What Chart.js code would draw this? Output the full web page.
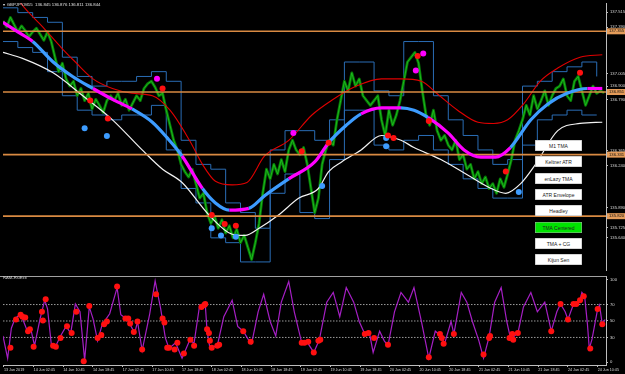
<!DOCTYPE html>
<html><head><meta charset="utf-8">
<script src="https://cdn.jsdelivr.net/npm/chart.js@4.4.0/dist/chart.umd.min.js"></script>
<style>
html,body{margin:0;padding:0;background:#000;width:625px;height:374px;overflow:hidden;font-family:"Liberation Sans",Arial,sans-serif}
canvas{position:absolute;left:0}
#main{top:0}
#sub{top:273px}
.t{position:absolute;transform:scale(.5);transform-origin:0 0;white-space:nowrap;line-height:1}
.btn{position:absolute;left:535px;width:94px;height:22px;background:#fff;color:#222;font-size:10px;line-height:22px;text-align:center;transform:scale(.5);transform-origin:0 0;box-sizing:border-box;border:1px solid #aaa}
.btn.on{background:#00e400}
</style></head><body>
<canvas id="main" width="625" height="273"></canvas>
<canvas id="sub" width="625" height="101"></canvas>
<div class="t" style="left:3px;top:2px;color:#e0e0e0;font-size:8.6px">&#9662; GBPJPY,M15&nbsp; 136.845 136.876 136.811 136.844</div>
<div class="t" style="left:3px;top:275px;color:#d0d0d0;font-size:8.4px">RAM-RsiExit</div>
<div id="btns"></div>
<script>
// ---------- DATA ----------
const buttonNames = ["M1 TMA","Keltner ATR","enLazy TMA","ATR Envelope","Headley","TMA Centered","TMA + CG","Kijun Sen"];
const activeButton = "TMA Centered";

const timeLabels = ["13 Jun 2019","14 Jun 02:45","14 Jun 10:45","14 Jun 18:45","17 Jun 02:45","17 Jun 10:45","17 Jun 18:45","18 Jun 02:45","18 Jun 10:45","18 Jun 18:45","19 Jun 02:45","19 Jun 10:45","19 Jun 18:45","20 Jun 02:45","20 Jun 10:45","20 Jun 18:45","21 Jun 02:45","21 Jun 10:45","21 Jun 18:45","24 Jun 02:45","24 Jun 10:45"];
const timeBars = [1,33,65,97,129,161,193,225,257,289,321,353,385,417,449,481,513,545,577,609,641];

const priceTicks = [137.515,137.390,137.005,136.900,136.790,136.365,136.240,135.890,135.725,135.640];
const levels = [137.355,136.851,136.331,135.820];
const rsiTicks = [0,30,50,70,100];
const rsiLevels = [70,50,30];

// close price, one sample every 4 bars (M15)
const PRICE_STEP = 4;
const priceClose = [
137.44,137.39,137.47,137.41,137.35,137.40,137.36,137.31,137.35,137.38,
137.33,137.28,137.35,137.27,137.14,137.02,137.09,136.96,136.90,136.94,
136.82,136.88,136.78,136.84,136.71,136.79,136.74,136.68,136.78,136.82,
136.78,136.84,136.74,136.79,136.70,136.76,136.82,136.78,136.88,136.92,
136.94,136.89,136.82,136.84,136.70,136.575,136.45,136.37,136.25,136.19,
136.145,136.21,136.09,135.97,136.01,135.85,135.76,135.82,135.72,135.79,
135.68,135.74,135.64,135.71,135.60,135.66,135.56,135.46,135.60,135.76,
136.01,136.21,136.13,136.25,136.17,136.29,136.19,136.37,136.45,136.37,
136.33,136.39,136.25,136.05,135.85,135.97,136.25,136.37,136.45,136.41,
136.62,136.78,136.94,136.86,137.01,136.90,136.96,136.82,136.78,136.74,
136.78,136.82,136.62,136.49,136.70,136.575,136.66,136.78,136.94,137.10,
137.14,137.18,137.09,136.86,136.66,136.575,136.70,136.53,136.45,136.49,
136.41,136.37,136.45,136.29,136.33,136.21,136.25,136.13,136.19,136.09,
136.145,136.05,136.09,136.01,136.13,136.06,136.17,136.29,136.45,136.53,
136.62,136.74,136.66,136.82,136.71,136.78,136.86,136.74,136.82,136.88,
136.90,136.96,136.82,136.78,136.94,136.98,136.86,136.74,136.82,136.90,
136.84,136.86,136.844];

// step channel, one value every 16 bars
const BAND_STEP = 16;
const stepUpper = [137.55,137.51,137.47,137.43,137.14,136.98,136.90,136.94,136.94,136.98,137.02,136.94,136.45,136.25,136.21,135.93,135.85,135.72,136.37,136.53,136.53,136.45,136.62,137.10,137.10,136.86,136.82,137.27,137.27,136.82,136.62,136.49,136.37,136.25,136.29,136.90,136.94,137.02,137.06,137.10,136.98];
const stepLower = [137.27,137.22,137.18,137.02,136.82,136.70,136.66,136.62,136.66,136.66,136.74,136.37,136.05,135.93,135.64,135.60,135.44,135.44,136.01,136.17,135.85,135.80,136.29,136.70,136.70,136.41,136.37,136.45,136.49,136.37,136.25,136.13,136.05,135.97,135.97,136.41,136.62,136.66,136.70,136.66,136.66];

const redBandBars = [0,19,43,64,78,97,118,139,161,180,201,215,229,247,263,282,308,333,354,381,408,429,451,469,490,512,529,544,561,579,598,622,646];
const redBandVals = [137.83,137.59,137.39,137.21,137.10,136.96,136.88,136.84,136.82,136.70,136.45,136.25,136.11,136.08,136.10,136.32,136.45,136.66,136.78,136.90,136.96,136.96,136.94,136.83,136.70,136.60,136.59,136.62,136.75,136.94,137.05,137.14,137.16];

const whiteBandBars = [0,21,54,86,118,150,172,193,222,247,261,276,297,319,340,351,365,386,408,429,443,472,499,526,542,558,574,598,622,646];
const whiteBandVals = [137.18,137.13,137.01,136.82,136.62,136.37,136.21,136.10,135.83,135.67,135.66,135.72,135.83,135.97,136.05,136.19,136.27,136.37,136.49,136.45,136.39,136.29,136.17,136.05,136.01,136.09,136.25,136.53,136.59,136.60];

const tmaBars = [0,16,32,54,75,97,118,139,161,177,193,215,229,244,265,282,308,336,351,370,386,408,429,443,458,480,497,515,531,547,569,587,608,630,646];
const tmaVals = [137.43,137.35,137.27,137.10,136.98,136.88,136.79,136.71,136.60,136.47,136.32,136.05,135.93,135.87,135.885,135.99,136.13,136.27,136.43,136.575,136.67,136.72,136.72,136.70,136.64,136.51,136.37,136.31,136.31,136.39,136.62,136.75,136.84,136.88,136.88];
const tmaState = [1,1,0,0,0,1,1,0,0,0,1,0,0,1,0,0,1,1,0,0,1,1,0,0,1,1,1,1,1,0,0,0,0,1,1];

const redDotBars = [94,113,172,225,239,251,322,351,415,421,447,459,542,622];
const redDotVals = [136.78,136.63,136.88,135.83,135.755,135.74,136.36,136.43,136.49,136.47,137.15,136.61,136.19,137.01];
const blueDotBars = [88,112,225,235,251,344,413,413,556];
const blueDotVals = [136.55,136.485,135.72,135.66,135.65,136.07,136.47,136.40,136.02];
const magDotBars = [166,313,445,453];
const magDotVals = [136.96,136.51,137.03,137.17];

const rsiBars = [0,5,9,13,18,21,27,30,34,40,45,48,52,57,62,68,73,78,83,88,93,97,102,107,115,123,127,134,142,145,150,158,164,170,175,179,186,193,201,206,212,218,220,223,
231,238,247,253,259,264,268,275,281,288,294,300,308,314,322,327,335,341,349,356,363,370,378,384,390,395,399,406,411,415,422,429,437,443,451,459,466,472,476,483,486,494,500,506,513,518,524,530,537,543,547,550,555,561,569,576,584,591,597,601,606,609,615,619,622,624,627,630,632,635,641,643,646,649];
const rsiVals = [31.8,4.7,41.2,52.9,57.6,52.9,35.3,40,20,52.9,75.3,64.7,22.4,20,31.8,43.5,35.3,70.6,61.2,2.4,67.1,52.9,25.9,45.9,58.8,90.6,57.6,51.8,35.3,49.4,14.1,57.6,98.8,64.7,29.4,16.5,23.5,4.7,25.9,23.5,69.4,70.6,37.6,17.6,
20,55.3,75.3,43.5,37.6,28.2,22.4,61.2,82.4,49.4,31.8,72.9,98,61.2,23.5,25.9,11.8,27.1,72.9,84.7,55.3,90.6,72.9,49.4,34.1,35.3,11.8,37.6,25.9,20,61.2,84.7,72.9,90.6,49.4,4.7,37.6,31.8,22.4,49.4,34.1,84.7,72.9,49.4,25.9,4.7,30.6,72.9,90.6,49.4,29.4,30.6,35.3,67.1,84.7,61.2,72.9,37.6,61.2,70.6,61.2,51.8,70.6,71.8,75.3,84.7,80,45.9,16.5,28.2,64.7,69.4,45.9,51.8];

const rsiDotBars = [8,14,19,21,24,27,29,33,42,43,46,54,57,62,69,74,79,87,93,102,106,109,112,123,132,135,137,141,145,150,165,172,174,177,179,185,188,195,202,206,214,217,218,220,222,223,225,231,233,259,267,322,325,329,335,340,342,390,394,400,415,459,471,473,475,486,518,524,525,546,549,550,555,591,601,609,615,618,622,626,633,641,646];
const rsiDotVals = [17.6,51.8,57.6,55.3,54.1,37.6,40,18.8,61.2,50.6,76.5,20,18.8,29.4,43.5,35.3,61.2,1.2,68.2,29.4,32.9,45.9,49.4,91.8,52.9,52.9,47.1,36.5,49.4,15.3,82.4,52.9,48.2,17.6,17.6,15.3,23.5,10.6,27.1,20,67.1,69.4,70.6,40,35.3,25.9,17.6,20,21.2,37.6,24.7,23.5,23.5,24.7,11.8,25.9,27.1,34.1,35.3,29.4,21.2,5.9,34.1,29.4,22.4,34.1,9.4,29.4,31.8,29.4,34.1,27.1,35.3,37.6,70.6,51.8,70.6,70.6,75.3,80,16.5,64.7,45.9];

// ---------- BUILD ----------
const X_MAX = 650;
const MAG = '#ff00ff', LBLUE = '#3d9cff';
const pts = (xs, ys) => ys.map((y, i) => ({x: xs[i], y}));
const stepPts = (step, ys) => ys.map((y, i) => ({x: i * step, y}));
const hline = v => [{x: 0, y: v}, {x: X_MAX, y: v}];
const FONT = 'Liberation Sans';
const noPad = s => { s.paddingTop = 0; s.paddingBottom = 0; s.paddingLeft = 0; s.paddingRight = 0; };

const btnWrap = document.getElementById('btns');
buttonNames.forEach((n, i) => {
  const d = document.createElement('div');
  d.className = 'btn' + (n === activeButton ? ' on' : '');
  d.style.top = (140 + i * 16.3) + 'px';
  d.textContent = n;
  btnWrap.appendChild(d);
});

const dotSet = (xs, ys, color) => ({data: pts(xs, ys), showLine: false, pointRadius: 3, pointBackgroundColor: color, pointBorderWidth: 0, borderColor: color});

const levelTags = {
  id: 'levelTags',
  afterDraw(chart) {
    const {ctx, chartArea, scales: {y}} = chart;
    ctx.save();
    ctx.font = '4.2px "' + FONT + '"';
    ctx.textBaseline = 'middle';
    levels.forEach(v => {
      const py = y.getPixelForValue(v);
      ctx.fillStyle = '#e49c5a';
      ctx.fillRect(chartArea.right + 1, py - 3, 18, 6);
      ctx.fillStyle = '#111';
      ctx.fillText(v.toFixed(3), chartArea.right + 3, py);
    });
    ctx.restore();
  }
};

new Chart(document.getElementById('main'), {
  type: 'line',
  data: {datasets: [
    dotSet(magDotBars, magDotVals, MAG),
    dotSet(redDotBars, redDotVals, '#ff1010'),
    dotSet(blueDotBars, blueDotVals, LBLUE),
    {data: pts(tmaBars, tmaVals), borderWidth: 3.2, borderColor: LBLUE, cubicInterpolationMode: 'monotone',
     segment: {borderColor: c => tmaState[c.p0DataIndex] ? MAG : LBLUE}},
    ...levels.map(v => ({data: hline(v), borderColor: '#d98a42', borderWidth: 1.6})),
    {data: pts(redBandBars, redBandVals), borderColor: '#e00000', borderWidth: 1.1, cubicInterpolationMode: 'monotone'},
    {data: pts(whiteBandBars, whiteBandVals), borderColor: '#f2f2f2', borderWidth: 1.2, cubicInterpolationMode: 'monotone'},
    {data: stepPts(PRICE_STEP, priceClose), borderColor: '#22c822', borderWidth: 0.8},
    {data: stepPts(PRICE_STEP, priceClose), borderColor: '#067a06', borderWidth: 2.8},
    {data: stepPts(BAND_STEP, stepUpper), borderColor: '#2a6db5', borderWidth: 1, stepped: true},
    {data: stepPts(BAND_STEP, stepLower), borderColor: '#2a6db5', borderWidth: 1, stepped: true}
  ]},
  options: {
    responsive: false, animation: false, events: [],
    layout: {padding: 0},
    plugins: {legend: {display: false}, tooltip: {enabled: false}},
    elements: {point: {radius: 0, hoverRadius: 0}, line: {borderJoinStyle: 'round'}},
    scales: {
      x: {type: 'linear', min: 0, max: X_MAX, display: false},
      y: {position: 'right', min: 135.373, max: 137.59,
        afterBuildTicks: s => { s.ticks = priceTicks.map(v => ({value: v})); },
        afterFit: s => { s.width = 19; noPad(s); },
        ticks: {color: '#d8d8d8', font: {size: 4.2, family: FONT}, padding: 2, autoSkip: false, callback: v => Number(v).toFixed(3)},
        grid: {drawOnChartArea: false, drawTicks: true, tickLength: 2, color: '#bdbdbd'},
        border: {display: true, color: '#bdbdbd', width: 1}
      }
    }
  },
  plugins: [levelTags]
});

const topLine = {
  id: 'topLine',
  afterDraw(chart) {
    const {ctx, chartArea} = chart;
    ctx.save();
    ctx.strokeStyle = '#a0a0a0';
    ctx.lineWidth = 1;
    ctx.beginPath();
    ctx.moveTo(0, chartArea.top + 0.5);
    ctx.lineTo(chartArea.right, chartArea.top + 0.5);
    ctx.stroke();
    ctx.restore();
  }
};

new Chart(document.getElementById('sub'), {
  type: 'line',
  data: {datasets: [
    dotSet(rsiDotBars, rsiDotVals, '#ff1010'),
    {data: pts(rsiBars, rsiVals), borderColor: '#a51fc4', borderWidth: 1.2},
    ...rsiLevels.map(v => ({data: hline(v), borderColor: '#9a9a9a', borderWidth: 1, borderDash: [1.5, 1.5]}))
  ]},
  options: {
    responsive: false, animation: false, events: [],
    layout: {padding: 0},
    plugins: {legend: {display: false}, tooltip: {enabled: false}},
    elements: {point: {radius: 0, hoverRadius: 0}},
    scales: {
      x: {type: 'linear', min: 0, max: X_MAX, position: 'bottom',
        afterBuildTicks: s => { s.ticks = timeBars.map(v => ({value: v})); },
        afterFit: s => { s.height = 9; noPad(s); },
        ticks: {color: '#d8d8d8', font: {size: 3.7, family: FONT}, padding: 1, align: 'start', maxRotation: 0, minRotation: 0, autoSkip: false,
          callback: (v, i) => timeLabels[i]},
        grid: {drawOnChartArea: false, drawTicks: true, tickLength: 2, color: '#bdbdbd'},
        border: {display: true, color: '#bdbdbd', width: 1}
      },
      y: {position: 'right', min: -3.5, max: 104.7,
        afterBuildTicks: s => { s.ticks = rsiTicks.map(v => ({value: v})); },
        afterFit: s => { s.width = 19; noPad(s); },
        ticks: {color: '#d8d8d8', font: {size: 4.2, family: FONT}, padding: 2, autoSkip: false, callback: v => String(v)},
        grid: {drawOnChartArea: false, drawTicks: true, tickLength: 2, color: '#bdbdbd'},
        border: {display: true, color: '#bdbdbd', width: 1}
      }
    }
  },
  plugins: [topLine]
});
</script>
</body></html>
